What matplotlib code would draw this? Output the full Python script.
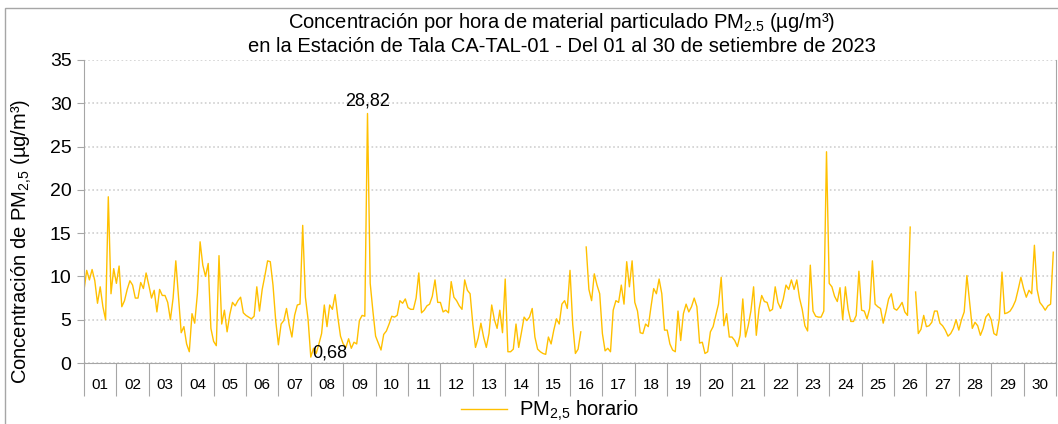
import matplotlib
matplotlib.use('Agg')
import matplotlib.pyplot as plt
from matplotlib.patches import Rectangle
import numpy as np

nan = float('nan')

# PM2.5 hourly series, every 2 hours (ug/m3)
dias = ['%02d' % d for d in range(1, 31)]
horas = list(range(0, 24, 2))

d01 = [8.4, 10.7, 9.6, 10.8, 9.5, 6.9, 8.8, 6.5, 5.0, 19.2, 8.0, 10.9]
d02 = [9.2, 11.2, 6.5, 7.2, 8.5, 9.5, 9.0, 7.5, 7.5, 9.3, 8.6, 10.4]
d03 = [9.0, 7.5, 8.4, 5.9, 8.5, 7.8, 7.8, 7.0, 5.0, 7.5, 11.8, 7.6]
d04 = [3.5, 4.2, 2.2, 1.3, 5.7, 4.6, 8.0, 14.0, 11.3, 10.0, 11.5, 4.0]
d05 = [2.5, 2.0, 12.4, 4.5, 6.1, 3.6, 5.6, 7.0, 6.6, 7.2, 7.6, 5.8]
d06 = [5.5, 5.3, 5.1, 5.4, 8.8, 6.0, 8.5, 10.1, 11.8, 11.7, 9.0, 4.9]
d07 = [2.1, 4.5, 4.9, 6.3, 4.4, 3.0, 5.5, 6.7, 6.8, 15.9, 7.6, 5.0]
d08 = [0.68, 1.7, 1.1, 2.2, 3.4, 6.7, 4.2, 6.7, 6.2, 7.9, 5.3, 3.1]
d09 = [2.2, 1.8, 2.8, 1.7, 2.4, 2.2, 4.9, 5.5, 5.4, 28.82, 9.2, 6.0]
d10 = [3.1, 2.3, 1.5, 3.3, 3.7, 4.5, 5.4, 5.3, 5.5, 7.2, 6.9, 7.4]
d11 = [6.4, 6.2, 6.2, 7.5, 10.4, 5.8, 6.1, 6.6, 6.8, 7.7, 9.6, 7.0]
d12 = [7.0, 5.9, 6.1, 5.8, 9.4, 7.6, 7.2, 6.6, 6.2, 9.6, 8.4, 8.0]
d13 = [4.5, 1.8, 2.9, 4.6, 3.0, 1.8, 3.4, 6.7, 5.0, 4.0, 6.1, 3.5]
d14 = [9.7, 1.3, 1.3, 1.6, 4.5, 1.8, 3.5, 5.3, 4.9, 5.3, 6.3, 3.0]
d15 = [1.6, 1.3, 1.1, 1.0, 3.0, 2.2, 3.8, 5.1, 4.5, 6.8, 7.2, 6.3]
d16 = [10.7, 4.5, 1.1, 1.6, 3.6, nan, 13.4, 8.5, 7.2, 10.3, 9.0, 8.0]
d17 = [3.4, 1.4, 1.7, 1.3, 6.1, 7.2, 7.0, 9.0, 6.8, 11.7, 8.8, 11.8]
d18 = [7.0, 6.0, 3.5, 3.4, 4.5, 4.2, 6.5, 8.6, 8.0, 9.7, 8.0, 3.8]
d19 = [3.8, 2.2, 1.5, 1.3, 6.0, 2.6, 5.7, 6.8, 5.9, 6.5, 7.5, 6.5]
d20 = [2.3, 2.4, 1.1, 1.3, 3.6, 4.2, 5.5, 6.8, 9.9, 4.3, 5.7, 3.0]
d21 = [3.0, 2.6, 1.9, 3.2, 7.4, 3.0, 4.3, 6.0, 8.8, 3.2, 6.2, 7.8]
d22 = [7.1, 7.0, 6.0, 6.2, 8.8, 7.0, 6.3, 7.4, 9.0, 8.5, 9.6, 8.5]
d23 = [9.6, 7.5, 6.2, 4.3, 3.7, 11.3, 6.0, 5.4, 5.3, 5.3, 6.0, 24.4]
d24 = [9.2, 8.8, 7.7, 7.1, 8.7, 5.0, 8.8, 6.2, 4.8, 4.8, 5.5, 10.6]
d25 = [6.1, 6.0, 5.1, 6.3, 11.8, 6.8, 6.5, 6.3, 4.6, 5.9, 7.4, 8.0]
d26 = [6.3, 6.1, 6.5, 7.0, 5.9, 5.5, 15.7, nan, 8.2, 3.4, 3.9, 5.5]
d27 = [4.2, 4.3, 4.7, 6.0, 6.0, 4.6, 4.3, 3.8, 3.1, 3.4, 4.0, 5.0]
d28 = [3.8, 5.0, 5.9, 10.1, 7.0, 4.0, 4.7, 4.3, 3.2, 4.0, 5.3, 5.7]
d29 = [5.0, 3.4, 3.2, 5.1, 10.5, 5.7, 5.8, 6.0, 6.5, 7.2, 8.5, 9.9]
d30 = [8.6, 7.6, 8.4, 8.0, 13.6, 8.5, 7.0, 6.6, 6.1, 6.6, 6.8, 12.8]

serie = [d01, d02, d03, d04, d05, d06, d07, d08, d09, d10,
         d11, d12, d13, d14, d15, d16, d17, d18, d19, d20,
         d21, d22, d23, d24, d25, d26, d27, d28, d29, d30]

pm25 = np.array(sum(serie, []), dtype=float)
t = np.array([i + h / 24.0 for i in range(len(serie)) for h in horas])

plt.rcParams['font.family'] = ['Liberation Sans', 'DejaVu Sans']
plt.rcParams['mathtext.fontset'] = 'custom'
plt.rcParams['mathtext.rm'] = 'Liberation Sans'
plt.rcParams['mathtext.it'] = 'Liberation Sans:italic'

W, H = 1058, 424
gris = '#A6A6A6'

fig = plt.figure(figsize=(W / 100, H / 100), dpi=100)
ax = fig.add_axes([84 / W, 1 - 363 / H, (1056 - 84) / W, (363 - 60) / H])

ax.plot(t, pm25, color='#FFC000', lw=1.0,
        label=r'PM$_\mathregular{2{,}5}$ horario')

ax.set_xlim(0, 30)
ax.set_ylim(0, 35)
ax.set_yticks(range(0, 36, 5))
ax.tick_params(axis='y', labelsize=14, length=5, color=gris, pad=4)
ax.yaxis.grid(True, color='#D0D0D0', linestyle=(0, (1, 1.5)), lw=1.2)
ax.set_axisbelow(True)

ax.spines['top'].set_visible(False)
for s in ['left', 'bottom', 'right']:
    ax.spines[s].set_color(gris)

# category axis: boxes between day boundaries, labels centred
ax.set_xticks(np.arange(0, 31))
ax.set_xticklabels([])
ax.tick_params(axis='x', which='major', length=24, color=gris)
ax.set_xticks(np.arange(30) + 0.5, minor=True)
ax.set_xticklabels(dias, minor=True, fontsize=11)
ax.tick_params(axis='x', which='minor', length=0, pad=11)

# max / min labels
imax = np.nanargmax(pm25)
imin = np.nanargmin(pm25)
ax.annotate(('%.2f' % pm25[imax]).replace('.', ','), (t[imax], pm25[imax]),
            xytext=(0, 3), textcoords='offset points',
            ha='center', va='bottom', fontsize=13)
ax.annotate(('%.2f' % pm25[imin]).replace('.', ','), (t[imin], pm25[imin]),
            xytext=(1, 3), textcoords='offset points',
            ha='left', va='center', fontsize=13)

fig.text(0.531, 1 - 22 / H,
         r'Concentración por hora de material particulado PM$_\mathregular{2.5}$ (µg/m³)',
         ha='center', va='center', fontsize=14.5)
fig.text(0.531, 1 - 46 / H,
         'en la Estación de Tala CA-TAL-01 - Del 01 al 30 de setiembre de 2023',
         ha='center', va='center', fontsize=14.5)
fig.text(22 / W, 1 - 241 / H, r'Concentración de PM$_\mathregular{2{,}5}$ (µg/m³)',
         rotation=90, ha='center', va='center', fontsize=14.5)

fig.legend(loc='center', bbox_to_anchor=(0.52, 1 - 411 / H), frameon=False,
           fontsize=14.5, handlelength=2.3, handletextpad=0.6)

# chart area border
fig.patches.append(Rectangle((5 / W, -0.1), 1.2, 1 - 8 / H + 0.1,
                             transform=fig.transFigure, fill=False,
                             ec=gris, lw=1))

fig.savefig('out.png', dpi=100)
